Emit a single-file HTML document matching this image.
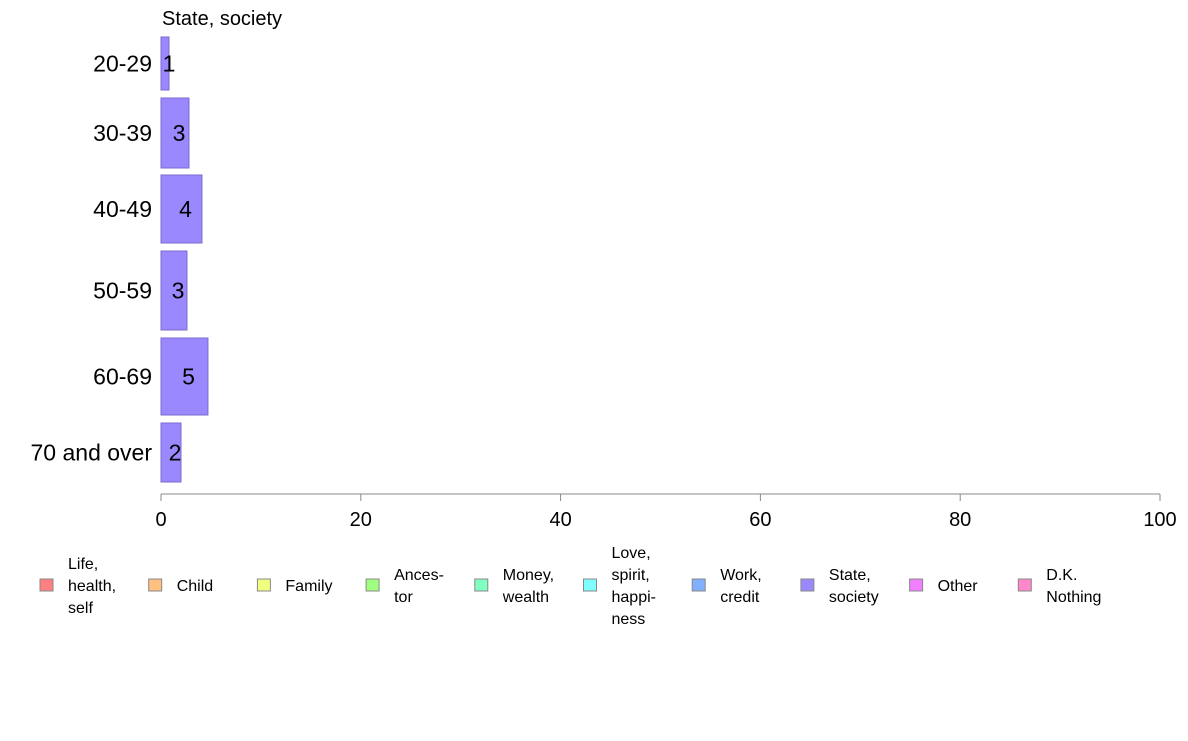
<!DOCTYPE html>
<html><head><meta charset="utf-8"><style>
body{margin:0;background:#fff;font-family:"Liberation Sans",Arial,sans-serif}
svg text{font-family:"Liberation Sans",Arial,sans-serif}
</style></head><body>
<svg width="1188" height="736" xmlns="http://www.w3.org/2000/svg">
<g id="plot"></g>
</svg>
<script>
const categories=["20-29","30-39","40-49","50-59","60-69","70 and over"];
const values=[0.8,2.8,4.1,2.6,4.7,2.0];
const labels=["1","3","4","3","5","2"];
const bandTops=[37,98,175,251,338,423];
const bandBottoms=[90,168,243,330,415,482];
const ticks=[0,20,40,60,80,100];
const legendNames=[["Life,","health,","self"],["Child"],["Family"],["Ances-","tor"],["Money,","wealth"],["Love,","spirit,","happi-","ness"],["Work,","credit"],["State,","society"],["Other"],["D.K.","Nothing"]];
const legendColors=["#ff8080","#ffc080","#f0ff80","#a0ff80","#80ffc0","#80ffff","#80b0ff","#9a88ff","#f080ff","#ff88cc"];
const NS="http://www.w3.org/2000/svg";
const g=document.getElementById('plot');
const x0=161,x1=1160;
function xs(v){return x0+v*(x1-x0)/100;}
function el(t,a,txt){const e=document.createElementNS(NS,t);for(const k in a)e.setAttribute(k,a[k]);if(txt!==undefined)e.textContent=txt;g.appendChild(e);return e;}
const title=el('text',{x:162,y:25,'font-size':20,fill:'#000'},'State, society');


categories.forEach((c,i)=>{
  const y=bandTops[i],h=bandBottoms[i]-bandTops[i];
  const r=el('rect',{x:x0,y:y,width:xs(values[i])-x0,height:h,fill:'#9a88ff',stroke:'#7a6acc','stroke-width':1});
  
  
  const t=el('text',{x:152,y:y+h/2+8,'font-size':23,'text-anchor':'end'},c);
  
  
  const v=el('text',{x:(x0+Math.max(xs(values[i]),x0+8))/2+4,y:y+h/2+8,'font-size':23,'text-anchor':'middle'},labels[i]);
  
  
});
const ax=el('line',{x1:x0,x2:x1,y1:494,y2:494,stroke:'#888','stroke-width':1});


ticks.forEach(t=>{
  const l=el('line',{x1:xs(t),x2:xs(t),y1:494,y2:501,stroke:'#888'});
  
  
  const tx=el('text',{x:xs(t),y:526,'font-size':20,'text-anchor':'middle'},String(t));
  
  
});
legendNames.forEach((n,i)=>{
  const bx=40+i*108.7;
  const r=el('rect',{x:bx,y:579,width:13,height:12,fill:legendColors[i],stroke:'#888'});
  
  
  const startY=591-(n.length-1)*11;
  n.forEach((line,j)=>{
    const t=el('text',{x:bx+28,y:startY+j*22,'font-size':16},line);
    
    
  });
});
</script>
</body></html>
